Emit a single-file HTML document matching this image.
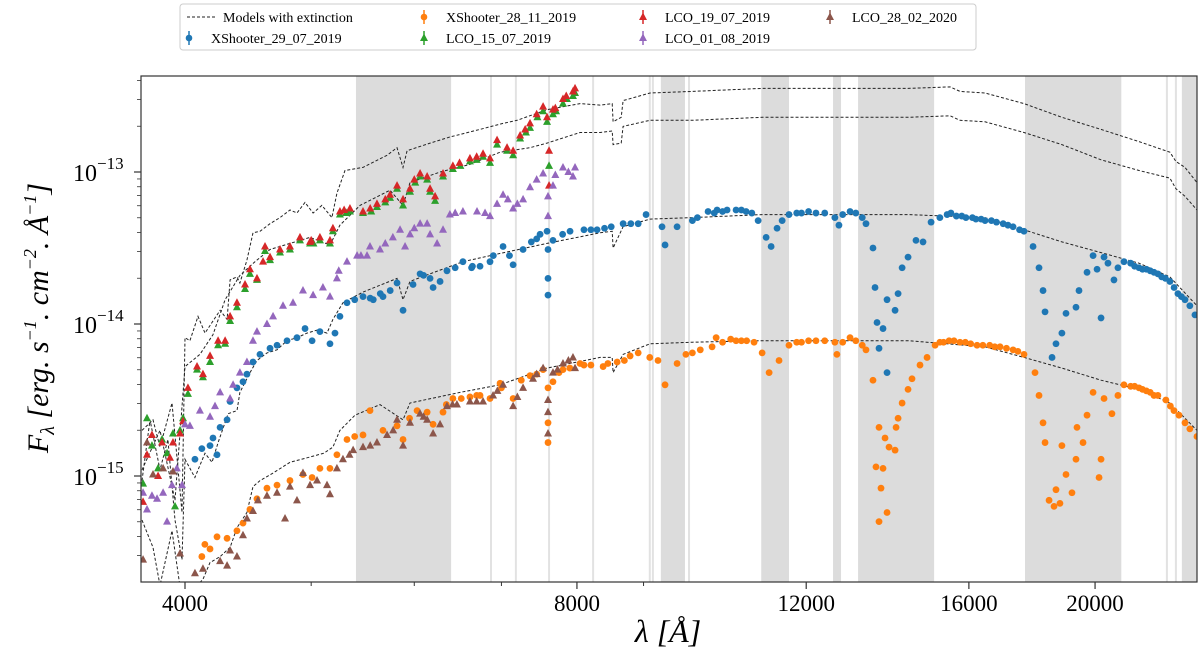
<!DOCTYPE html>
<html><head><meta charset="utf-8">
<style>
html,body{margin:0;padding:0;background:#fff;}
svg{display:block;font-family:"Liberation Serif","DejaVu Serif",serif;}
</style></head>
<body>
<svg id="chart" width="1200" height="653" viewBox="0 0 1200 653" xmlns="http://www.w3.org/2000/svg">
  <g id="bands"></g>
  <g id="models"></g>
  <g id="points"></g>
  <rect x="141" y="76" width="1056" height="506" fill="none" stroke="#333" stroke-width="1.2"/>
  <g id="axes"></g>
  <text x="668" y="642" font-size="32" text-anchor="middle" font-style="italic">λ [Å]</text>
  <text transform="translate(48,318) rotate(-90)" font-size="30" text-anchor="middle" font-style="italic">F<tspan font-size="20" dy="6">λ</tspan><tspan dy="-6"> [erg. s</tspan><tspan font-size="18" dy="-12">−1</tspan><tspan dy="12">. cm</tspan><tspan font-size="18" dy="-12">−2</tspan><tspan dy="12">. Å</tspan><tspan font-size="18" dy="-12">−1</tspan><tspan dy="12">]</tspan></text>
  <g id="legend">
    <rect x="180" y="4" width="796" height="46" rx="3" fill="#fff" stroke="#ccc"/>
  </g>
</svg>
<script>
// ---- data (wavelength in Å, log10 flux) ----
const bandStarts = [5412, 9280, 11082, 12583, 13152, 17670, 23318];
const bandEnds   = [6404, 9684, 11640, 12762, 15046, 20950, 23950];
const thinLines  = [6872, 7181, 7615, 8232, 9100, 9150, 9754, 22710, 23074];

const m1Lam = [3707,3780,3827,3909,3979,4000,4035,4093,4144,4196,4256,4309,4332,4385,4408,4463,4511,4567,4649,4732,4816,4876,4946,5017,5096,5187,5233,5308,5480,5718,5820,5882,5924,6170,6390,6740,7020,7197,7588,8044,8334,8514,8529,8651,8681,9103,9812,11100,12537,14368,15477,15750,16464,17638,18861,20213,21616,22832,23074,23448,23950];
const m1Log = [-14.70,-14.63,-14.81,-14.52,-15.24,-14.09,-14.11,-13.95,-14.06,-13.99,-13.91,-13.97,-13.71,-13.69,-13.73,-13.58,-13.40,-13.39,-13.34,-13.30,-13.25,-13.27,-13.20,-13.27,-13.22,-13.30,-13.14,-12.99,-12.97,-12.89,-12.84,-12.97,-12.86,-12.81,-12.77,-12.72,-12.68,-12.66,-12.59,-12.55,-12.56,-12.55,-12.67,-12.64,-12.53,-12.48,-12.47,-12.45,-12.45,-12.45,-12.44,-12.47,-12.48,-12.55,-12.64,-12.72,-12.80,-12.87,-12.93,-12.97,-13.07];
const m2Lam = [3707,3827,3930,4000,4107,4203,4294,4408,4527,4649,4816,4990,5169,5261,5451,5748,5882,5955,6280,6621,6983,7363,7588,8044,8334,8514,8529,8651,8681,9103,9812,11100,12537,14368,15477,15750,16464,17638,18861,20213,21616,22832,23074,23448,23950];
const m2Log = [-14.96,-14.70,-15.16,-14.28,-14.20,-14.07,-13.84,-13.68,-13.59,-13.51,-13.47,-13.43,-13.48,-13.35,-13.22,-13.12,-13.22,-13.07,-13.00,-12.95,-12.87,-12.84,-12.81,-12.74,-12.74,-12.73,-12.82,-12.81,-12.70,-12.66,-12.66,-12.64,-12.64,-12.64,-12.63,-12.66,-12.67,-12.74,-12.82,-12.92,-12.99,-13.04,-13.11,-13.16,-13.25];
const m3Lam = [3707,3760,3827,3881,3930,3979,4000,4071,4144,4196,4241,4317,4385,4408,4487,4543,4624,4707,4791,4876,4963,5052,5142,5196,5289,5480,5820,5882,5955,6170,6539,6946,7588,8334,8514,8529,8681,9103,9812,11100,12537,14368,16464,17638,18861,20213,21616,22832,23950];
const m3Log = [-15.03,-14.63,-14.96,-14.76,-15.29,-15.55,-14.89,-15.01,-14.85,-14.91,-14.78,-14.59,-14.57,-14.45,-14.32,-14.24,-14.19,-14.17,-14.11,-14.09,-14.06,-14.04,-14.06,-13.97,-13.86,-13.79,-13.70,-13.84,-13.72,-13.67,-13.59,-13.54,-13.47,-13.40,-13.39,-13.50,-13.36,-13.31,-13.30,-13.28,-13.28,-13.28,-13.30,-13.38,-13.46,-13.53,-13.60,-13.69,-13.88];
const m4Lam = [3707,3780,3827,3909,3979,4129,4181,4256,4332,4385,4463,4511,4567,4674,4816,4963,5114,5196,5261,5403,5647,5882,5955,6505,6983,7588,8334,8514,8529,8681,9103,9812,11100,12537,14368,16464,17638,18861,20213,21616,22832,23950];
const m4Log = [-15.29,-15.47,-15.72,-15.36,-15.82,-15.68,-15.57,-15.53,-15.47,-15.34,-15.24,-15.07,-15.03,-14.98,-14.91,-14.88,-14.85,-14.81,-14.70,-14.60,-14.53,-14.63,-14.52,-14.45,-14.40,-14.29,-14.22,-14.22,-14.32,-14.20,-14.13,-14.12,-14.11,-14.11,-14.11,-14.15,-14.22,-14.29,-14.37,-14.43,-14.52,-14.70];

const blueLam = [4071,4121,4181,4203,4233,4256,4309,4332,4385,4432,4463,4511,4567,4649,4707,4791,4876,4946,5008,5078,5169,5215,5261,5327,5400,5480,5580,5677,5750,5820,5882,5987,6062,6170,6203,6280,6357,6450,6539,6640,6740,6860,7020,7146,7273,7380,7495,7588,7601,7601,7601,7668,7800,7903,8100,8290,8500,8681,8915,9040,9299,9349,9550,9812,10088,10250,10433,10600,10790,11022,11179,11278,11397,11640,11900,12209,12624,12715,12967,13338,13504,13553,13601,13649,13746,13844,13844,14042,14117,14218,14368,14571,14754,14965,15395,15650,15917,16200,16464,16800,17145,17638,17923,18113,18242,18307,18535,18665,18861,18998,19337,19440,19718,19930,20071,20213,20320,20462,20680,20826,21049,21300,21616,21900,22197,22500,22832,23158,23448,23864,
  9900,10200,10350,10700,10900,11500,11800,12050,12400,12800,13100,13250,15200,15500,15800,16100,16350,16650,17000,17300,17500,21450,21750,22050,22350,22650,23000,23300,23650,5550,5650,6100,6650,6900,7100,7450,8200,8400,8800];
const blueLog = [-14.89,-14.82,-14.80,-14.75,-14.86,-14.68,-14.63,-14.51,-14.42,-14.38,-14.33,-14.25,-14.20,-14.16,-14.14,-14.11,-14.09,-14.03,-14.11,-14.05,-14.13,-14.06,-13.95,-13.86,-13.84,-13.82,-13.84,-13.82,-13.78,-13.73,-13.91,-13.74,-13.67,-13.70,-13.76,-13.72,-13.65,-13.63,-13.59,-13.63,-13.62,-13.59,-13.49,-13.61,-13.51,-13.46,-13.41,-13.39,-13.51,-13.70,-13.81,-13.45,-13.41,-13.39,-13.38,-13.38,-13.36,-13.34,-13.34,-13.28,-13.36,-13.48,-13.36,-13.32,-13.26,-13.25,-13.25,-13.25,-13.26,-13.32,-13.43,-13.49,-13.37,-13.28,-13.27,-13.27,-13.30,-13.35,-13.26,-13.34,-13.50,-13.76,-13.99,-14.16,-14.03,-14.32,-13.84,-13.91,-13.80,-13.63,-13.56,-13.45,-13.46,-13.33,-13.28,-13.29,-13.30,-13.31,-13.32,-13.33,-13.35,-13.39,-13.49,-13.63,-13.78,-13.92,-14.22,-14.13,-14.06,-13.93,-13.89,-13.78,-13.66,-13.55,-13.64,-13.96,-13.56,-13.60,-13.71,-13.63,-13.59,-13.60,-13.63,-13.64,-13.66,-13.69,-13.72,-13.80,-13.84,-13.94,
  -13.30,-13.27,-13.26,-13.25,-13.27,-13.32,-13.27,-13.26,-13.27,-13.28,-13.27,-13.30,-13.30,-13.27,-13.29,-13.30,-13.31,-13.32,-13.34,-13.36,-13.38,-13.62,-13.64,-13.65,-13.67,-13.70,-13.76,-13.82,-13.88,-13.83,-13.80,-13.68,-13.62,-13.55,-13.55,-13.44,-13.38,-13.37,-13.34];

const orangeLam = [4143,4121,4181,4233,4309,4385,4432,4487,4543,4624,4707,4816,4928,5008,5078,5169,5233,5327,5400,5480,5548,5677,5820,5882,6030,6138,6203,6313,6424,6520,6621,6740,6860,6983,7146,7250,7363,7535,7601,7601,7601,7668,7805,8044,8200,8379,8590,8789,8915,9233,9349,9550,9812,10160,10233,10500,10700,10943,11100,11238,11437,11640,11900,12209,12624,12669,12967,13338,13504,13576,13649,13649,13697,13746,13795,13844,13893,14042,14067,14117,14218,14368,14469,14675,14859,15072,15300,15585,15900,16233,16600,16907,17300,17638,17985,18113,18242,18307,18438,18600,18665,18796,18861,18998,19200,19337,19371,19579,19718,19930,20142,20213,20320,20606,20826,21049,21300,21616,21900,22197,22670,22996,23448,23950,
  9100,9700,9950,10350,10600,10800,11800,12050,12400,12800,13100,13250,15200,15450,15750,16050,16400,16750,17100,17450,21450,21750,22050,22350,22850,23200,23650,5950,6350,6700,7000,7450,7750,7900,8100,8450,8700];
const orangeLog = [-15.45,-15.53,-15.48,-15.40,-15.41,-15.36,-15.31,-15.22,-15.15,-15.08,-15.06,-15.03,-14.99,-15.01,-14.95,-14.95,-14.86,-14.76,-14.74,-14.73,-14.57,-14.70,-14.67,-14.76,-14.57,-14.58,-14.66,-14.58,-14.49,-14.49,-14.48,-14.47,-14.49,-14.39,-14.49,-14.37,-14.34,-14.30,-14.42,-14.65,-14.78,-14.38,-14.30,-14.26,-14.27,-14.28,-14.25,-14.21,-14.19,-14.24,-14.40,-14.26,-14.19,-14.15,-14.09,-14.10,-14.11,-14.12,-14.19,-14.32,-14.24,-14.14,-14.12,-14.11,-14.12,-14.20,-14.09,-14.17,-14.37,-14.94,-14.68,-15.30,-15.08,-14.95,-14.75,-15.24,-14.81,-14.83,-14.68,-14.62,-14.52,-14.43,-14.36,-14.27,-14.22,-14.14,-14.12,-14.11,-14.12,-14.14,-14.14,-14.15,-14.17,-14.20,-14.32,-14.47,-14.65,-14.78,-15.16,-15.20,-15.09,-15.18,-14.80,-14.99,-15.11,-14.89,-14.68,-14.78,-14.60,-14.45,-15.01,-14.89,-14.49,-14.59,-14.47,-14.40,-14.41,-14.42,-14.44,-14.47,-14.50,-14.57,-14.65,-14.74,
  -14.22,-14.20,-14.17,-14.12,-14.11,-14.11,-14.12,-14.11,-14.11,-14.12,-14.11,-14.14,-14.12,-14.11,-14.12,-14.13,-14.14,-14.15,-14.16,-14.18,-14.41,-14.43,-14.45,-14.47,-14.54,-14.60,-14.69,-14.62,-14.53,-14.47,-14.42,-14.33,-14.32,-14.29,-14.27,-14.26,-14.24];

const greenLam = [3714,3740,3773,3814,3841,3875,3916,3930,3965,3986,4021,4086,4129,4181,4241,4294,4332,4385,4448,4487,4543,4608,4649,4732,4816,4902,4990,5078,5169,5196,5261,5355,5480,5617,5748,5820,5882,5955,6062,6138,6170,6225,6313,6424,6621,6776,6860,6946,7070,7146,7235,7363,7535,7588,7615,7668,7805,7944,7973,
  5020,5320,5560,5700,6010,6510,6700,7310,7460,7710,7860];
const greenLog = [-15.05,-14.62,-14.80,-14.95,-14.76,-14.85,-14.72,-15.20,-14.70,-14.62,-14.46,-14.30,-14.35,-14.25,-14.14,-14.13,-13.98,-13.89,-13.77,-13.67,-13.71,-13.52,-13.58,-13.53,-13.51,-13.45,-13.47,-13.45,-13.47,-13.39,-13.28,-13.26,-13.27,-13.23,-13.17,-13.11,-13.22,-13.13,-13.03,-13.05,-13.13,-13.19,-13.03,-12.98,-12.93,-12.90,-12.94,-12.82,-12.86,-12.89,-12.78,-12.71,-12.60,-12.67,-12.96,-12.62,-12.55,-12.50,-12.48,
  -13.47,-13.27,-13.26,-13.20,-13.07,-12.96,-12.92,-12.74,-12.64,-12.60,-12.52];

const redLam = [3714,3740,3773,3814,3841,3895,3916,3965,3986,4021,4086,4129,4181,4241,4294,4332,4385,4448,4487,4543,4592,4608,4649,4732,4816,4902,4990,5078,5169,5196,5261,5355,5480,5617,5748,5820,5882,5955,6062,6138,6170,6225,6313,6424,6621,6776,6860,6946,7070,7146,7235,7363,7535,7588,7615,7615,7668,7805,7944,7973,
  5000,5300,5550,5700,6000,6500,6700,7300,7450,7700,7850];
const redLog = [-15.17,-14.86,-14.73,-15.00,-14.78,-14.88,-14.78,-14.72,-14.64,-14.42,-14.28,-14.33,-14.21,-14.11,-14.11,-13.95,-13.86,-13.74,-13.64,-13.70,-13.59,-13.49,-13.56,-13.51,-13.49,-13.43,-13.46,-13.43,-13.45,-13.37,-13.26,-13.24,-13.26,-13.21,-13.15,-13.09,-13.18,-13.11,-13.01,-13.03,-13.11,-13.16,-13.01,-12.96,-12.91,-12.88,-12.91,-12.79,-12.84,-12.86,-12.76,-12.68,-12.57,-12.64,-12.86,-13.09,-12.59,-12.52,-12.47,-12.45,
  -13.45,-13.25,-13.24,-13.18,-13.05,-12.94,-12.90,-12.72,-12.62,-12.58,-12.50];

const purpleLam = [3714,3740,3773,3807,3848,3875,3909,3943,3979,4000,4035,4107,4181,4218,4256,4332,4355,4408,4463,4511,4543,4624,4674,4757,4842,4928,5017,5105,5169,5233,5327,5423,5519,5548,5647,5777,5851,5903,5955,6062,6138,6170,6247,6313,6390,6539,6704,6860,6946,7020,7146,7273,7363,7535,7601,7601,7668,7805,7944,7973,
  5250,5460,5700,6000,6450,6800,7080,7200,7450,7700,7880];
const purpleLog = [-15.11,-15.22,-15.13,-15.15,-15.11,-15.30,-15.06,-14.95,-15.06,-14.66,-14.67,-14.57,-14.61,-14.54,-14.45,-14.49,-14.40,-14.32,-14.25,-14.11,-14.05,-14.00,-13.95,-13.88,-13.86,-13.78,-13.81,-13.76,-13.82,-13.70,-13.59,-13.55,-13.55,-13.49,-13.51,-13.43,-13.38,-13.49,-13.41,-13.34,-13.34,-13.41,-13.47,-13.38,-13.28,-13.26,-13.26,-13.29,-13.21,-13.15,-13.24,-13.18,-13.10,-13.01,-13.16,-13.29,-13.09,-12.97,-13.03,-12.97,
  -13.65,-13.55,-13.47,-13.37,-13.27,-13.27,-13.18,-13.21,-13.05,-13.02,-13.00];

const brownLam = [3714,3740,3780,3848,3916,3965,4071,4129,4256,4309,4332,4385,4432,4463,4511,4551,4624,4707,4774,4816,4876,4928,4990,5052,5142,5169,5233,5289,5385,5480,5617,5718,5820,5882,5955,6062,6138,6203,6280,6357,6470,6621,6776,6897,7020,7146,7273,7402,7535,7601,7601,7601,7668,7805,7944,7973,
  5350,5550,5780,6100,6420,6700,6950,7200,7450,7730,7880];
const brownLog = [-15.55,-14.78,-14.99,-14.95,-14.97,-15.51,-15.64,-15.61,-15.56,-15.59,-15.49,-15.53,-15.39,-15.28,-15.23,-15.16,-15.13,-15.11,-15.28,-15.07,-15.16,-14.98,-15.06,-15.03,-15.06,-15.12,-14.95,-14.89,-14.83,-14.81,-14.78,-14.73,-14.63,-14.80,-14.65,-14.59,-14.63,-14.72,-14.66,-14.54,-14.53,-14.51,-14.51,-14.47,-14.40,-14.54,-14.42,-14.36,-14.29,-14.50,-14.58,-14.72,-14.32,-14.26,-14.22,-14.29,
  -14.86,-14.80,-14.70,-14.61,-14.53,-14.51,-14.44,-14.48,-14.33,-14.30,-14.24];

const xTickValues = [4000, 8000, 12000, 16000, 20000];
const xTickLabels = ["4000", "8000", "12000", "16000", "20000"];
const xMinorValues = [5000, 6000, 7000, 9000];
const yTickExps = [-13, -14, -15];

// ---- axes ----
const L = 141, R = 1197, T = 76, B = 582;
const NS = "http://www.w3.org/2000/svg";
function xs(lam){ return 185 + 1302 * Math.log10(lam / 4000); }
function ys(lg){ return 172 - (lg + 13) * 152; }
function mk(tag, attrs, parent){
  const e = document.createElementNS(NS, tag);
  for (const k in attrs) e.setAttribute(k, attrs[k]);
  parent.appendChild(e);
  return e;
}
const svg = document.getElementById('chart');
const defs = mk('defs', {}, svg);
const cp = mk('clipPath', {id: 'plotclip'}, defs);
mk('rect', {x: L, y: T, width: R - L, height: B - T}, cp);

const bands = document.getElementById('bands');
bands.setAttribute('clip-path', 'url(#plotclip)');
bandStarts.forEach((s, i) => {
  const r = mk('rect', {x: xs(s), y: T, width: xs(bandEnds[i]) - xs(s), height: B - T, fill: '#dcdcdc'}, bands);
  
  
});
thinLines.forEach(v => {
  const l = mk('line', {x1: xs(v), x2: xs(v), y1: T, y2: B, stroke: '#e2e2e2', 'stroke-width': 2}, bands);
  
  
});

const models = document.getElementById('models');
models.setAttribute('clip-path', 'url(#plotclip)');
[[m1Lam, m1Log], [m2Lam, m2Log], [m3Lam, m3Log], [m4Lam, m4Log]].forEach((m, i) => {
  const d = m[0].map((v, j) => (j ? 'L' : 'M') + xs(v).toFixed(1) + ' ' + ys(m[1][j]).toFixed(1)).join(' ');
  const p = mk('path', {d: d, fill: 'none', stroke: '#222', 'stroke-width': 1, 'stroke-dasharray': '3,2'}, models);
  
  
});

const pts = document.getElementById('points');
pts.setAttribute('clip-path', 'url(#plotclip)');
function circles(lams, logs, color, name){
  const g = mk('g', {fill: color}, pts);
  
  
  lams.forEach((v, j) => {
    const c = mk('circle', {cx: xs(v), cy: ys(logs[j]), r: 3.4}, g);
    
    
  });
}
function tris(lams, logs, color, name){
  const g = mk('g', {fill: color}, pts);
  
  
  lams.forEach((v, j) => {
    const x = xs(v), y = ys(logs[j]);
    const p = mk('polygon', {points: `${x},${y-4.5} ${x-4},${y+3} ${x+4},${y+3}`}, g);
    
    
  });
}
circles(blueLam, blueLog, '#1f77b4', 'xshooter-29-07-2019');
circles(orangeLam, orangeLog, '#ff7f0e', 'xshooter-28-11-2019');
tris(greenLam, greenLog, '#2ca02c', 'lco-15-07-2019');
tris(redLam, redLog, '#d62728', 'lco-19-07-2019');
tris(purpleLam, purpleLog, '#9467bd', 'lco-01-08-2019');
tris(brownLam, brownLog, '#8c564b', 'lco-28-02-2020');

const axes = document.getElementById('axes');
xTickValues.forEach((v, i) => {
  const x = xs(v);
  const t = mk('line', {x1: x, x2: x, y1: B, y2: B + 7, stroke: '#333', 'stroke-width': 1.2}, axes);
  
  
  const tx = mk('text', {x: x, y: B + 29, 'font-size': 23, 'text-anchor': 'middle'}, axes);
  tx.textContent = xTickLabels[i];
  
  
});
xMinorValues.forEach(v => {
  const t = mk('line', {x1: xs(v), x2: xs(v), y1: B, y2: B + 4, stroke: '#333', 'stroke-width': 1}, axes);
  
  
});
yTickExps.forEach(e => {
  const y = ys(e);
  const t = mk('line', {x1: L - 7, x2: L, y1: y, y2: y, stroke: '#333', 'stroke-width': 1.2}, axes);
  
  
  const tx = mk('text', {x: 73, y: y + 9, 'font-size': 24}, axes);
  
  
  tx.innerHTML = '10<tspan font-size="17" dy="-12">−' + (-e) + '</tspan>';
});
for (let e = -16; e <= -13; e++) {
  for (let m = 2; m <= 9; m++) {
    const lg = e + Math.log10(m);
    const y = ys(lg);
    if (y < T || y > B) continue;
    const t = mk('line', {x1: L - 4, x2: L, y1: y, y2: y, stroke: '#333', 'stroke-width': 0.8}, axes);
    
    
  }
}

const lg = document.getElementById('legend');
const legendItems = [
  ['Models with extinction', null, 'line', 187, 17],
  ['XShooter_29_07_2019', '#1f77b4', 'circle', 187, 38],
  ['XShooter_28_11_2019', '#ff7f0e', 'circle', 422, 17],
  ['LCO_15_07_2019', '#2ca02c', 'tri', 422, 38],
  ['LCO_19_07_2019', '#d62728', 'tri', 641, 17],
  ['LCO_01_08_2019', '#9467bd', 'tri', 641, 38],
  ['LCO_28_02_2020', '#8c564b', 'tri', 828, 17]
];
legendItems.forEach(it => {
  const g = mk('g', {}, lg);
  
  
  const x = it[3], y = it[4];
  let tx;
  if (it[2] === 'line') {
    mk('line', {x1: x, x2: x + 30, y1: y, y2: y, stroke: '#222', 'stroke-dasharray': '3,2'}, g);
    tx = x + 36;
  } else {
    const mx = x + 2;
    mk('line', {x1: mx, x2: mx, y1: y - 7, y2: y + 7, stroke: it[1], 'stroke-width': 1.5}, g);
    if (it[2] === 'circle') mk('circle', {cx: mx, cy: y, r: 3.3, fill: it[1]}, g);
    else mk('polygon', {points: `${mx},${y-4.5} ${mx-4},${y+3} ${mx+4},${y+3}`, fill: it[1]}, g);
    tx = x + 24;
  }
  const t = mk('text', {x: tx, y: y + 5, 'font-size': 14}, g);
  t.textContent = it[0];
});
</script>
</body></html>
